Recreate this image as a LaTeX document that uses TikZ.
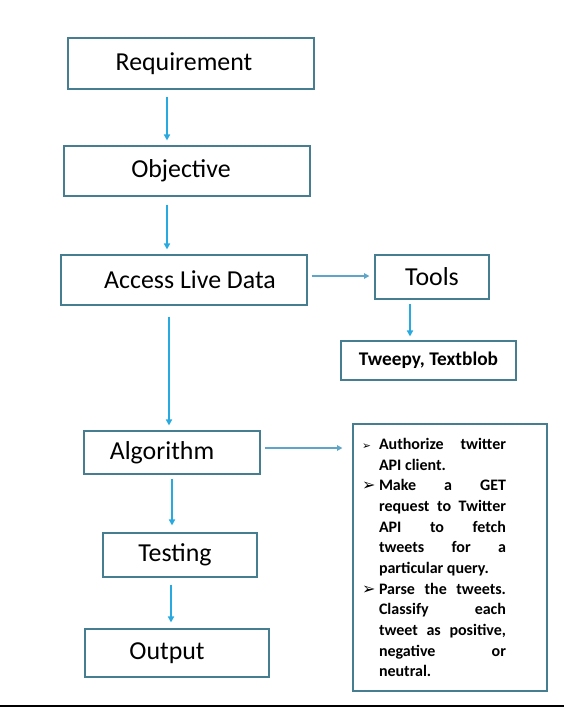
\documentclass[tikz,border=0pt]{standalone}
\usepackage{fontspec}
\setmainfont{Carlito}
\newfontfamily\dejavu{DejaVu Sans}
\usetikzlibrary{arrows.meta,calc}
\definecolor{boxline}{RGB}{70,125,145}
\definecolor{flowblue}{RGB}{40,170,225}
\definecolor{sideblue}{RGB}{95,165,200}
\tikzset{
  stage/.style={draw=boxline,line width=0.8pt,inner sep=0pt,font=\fontsize{19.4}{23}\selectfont},
  flow/.style={draw=flowblue,line width=1.5pt,-{Triangle[length=4.5pt,width=4.5pt]}},
  side/.style={draw=sideblue,line width=1pt,-{Triangle[length=4pt,width=4pt]}}
}
\newcommand\tweetstep[2]{\par\noindent\hangindent=12.75pt\hangafter=1
  \makebox[12.75pt][l]{\dejavu#1➢}#2}
\begin{document}
\begin{tikzpicture}[x=0.75pt,y=-0.75pt]
  \useasboundingbox (0,0) rectangle (564,708);
  % main column
  \node[stage,minimum width=184.5pt,minimum height=38.25pt] (req) at (191,63.5) {Requirement\hspace*{10.5pt}};
  \node[stage,minimum width=184.5pt,minimum height=37.5pt] (obj) at (187,171) {Objective\hspace*{9pt}};
  \node[stage,minimum width=184.5pt,minimum height=37.5pt] (acc) at (184,280) {\hspace*{9pt}Access Live Data};
  \node[stage,minimum width=132pt,minimum height=32.25pt] (alg) at (172,452.5) {Algorithm\hspace*{15pt}};
  \node[stage,minimum width=115.5pt,minimum height=33pt] (test) at (180,555) {Testing\hspace*{7.5pt}};
  \node[stage,minimum width=138pt,minimum height=36pt] (out) at (177,653) {Output\hspace*{15pt}};
  % side boxes
  \node[stage,minimum width=85.5pt,minimum height=33pt] (tools) at (432,277) {Tools};
  \node[stage,minimum width=131.25pt,minimum height=29.25pt,font=\fontsize{14.5}{17}\selectfont\bfseries] (libs) at (428.5,360.5) {Tweepy, Textblob};
  \node[stage,minimum width=145.5pt,minimum height=200.25pt] (steps) at (450,557.5) {%
    \begin{minipage}{108pt}
      \fontsize{12}{15.5}\selectfont\bfseries\leftskip=0pt\rightskip=0pt
      \tolerance=10000\hbadness=10000
      \tweetstep{\fontsize{8}{10}\selectfont}{Authorize twitter\linebreak API client.}
      \tweetstep{}{Make a GET\linebreak request to Twitter\linebreak API to fetch\linebreak tweets for a\linebreak particular query.}
      \tweetstep{}{Parse the tweets.\linebreak Classify each\linebreak tweet as positive,\linebreak negative or\linebreak neutral.}
    \end{minipage}\hspace*{24pt}};
  \coordinate (accout) at ($(acc.east)+(4,-4)$);
  \coordinate (algout) at ($(alg.east)+(4,-4.5)$);
  % connectors
  \draw[flow] ($(req.south)+(-24,7)$) -- ($(obj.north)+(-20,-5)$);
  \draw[flow] ($(obj.south)+(-20,8)$) -- ($(acc.north)+(-17,-5)$);
  \draw[side,shorten >=3.75pt] (accout) -- (accout -| tools.west);
  \draw[flow] ($(acc.south)+(-15,11)$) -- ($(alg.north)+(-3,-5)$);
  \draw[flow] ($(tools.south)+(-22,4)$) -- ($(libs.north)+(-18.5,-4)$);
  \draw[side,shorten >=7.5pt] (algout) -- (algout -| steps.west);
  \draw[flow] ($(alg.south)+(0,4)$) -- ($(test.north)+(-8,-7)$);
  \draw[flow] ($(test.south)+(-9,7)$) -- ($(out.north)+(-6,-6)$);
  \draw[line width=1.5pt] (0,706) -- (564,706);
\end{tikzpicture}
\end{document}
